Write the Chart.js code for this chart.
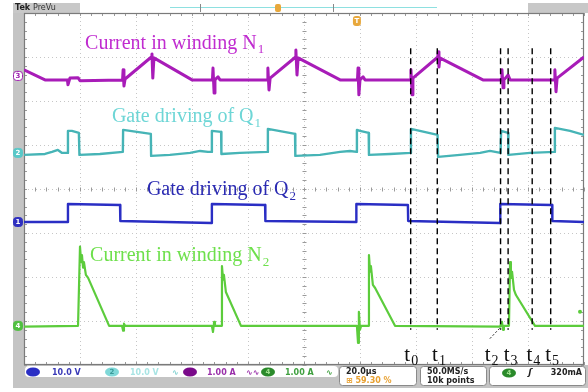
<!DOCTYPE html>
<html><head><meta charset="utf-8">
<script src="https://cdn.jsdelivr.net/npm/chart.js@4.4.1/dist/chart.umd.min.js"></script>
<style>html,body{margin:0;padding:0;background:#fff;overflow:hidden}</style>
</head><body>
<canvas id="c" width="588" height="392"></canvas>
<script>
// ---------- data (time in µs, 20 µs/div) ----------
// CH3: current in winding N1 (A)
const n1Time = [0,7.5,15.5,15.7,16.4,19.3,20,35.2,35.4,35.7,36.1,45.5,45.7,46.0,46.4,60,67.3,67.5,67.9,68.2,69.3,70,86.9,87.1,87.5,87.9,97.0,97.1,97.5,97.9,112.9,119.1,119.3,119.6,120,121.1,121.8,138.0,138.2,138.6,138.9,147.8,147.9,148.2,148.5,163.9,170.5,170.7,171.1,171.4,172.9,173.6,189.4,189.6,190,190.4,200];
const n1Amps = [0.14,-0.09,-0.09,-0.2,-0.05,-0.04,-0.11,-0.09,0.14,-0.23,-0.07,0.43,0.5,-0.05,0.41,-0.09,-0.09,0.18,-0.39,-0.09,-0.02,-0.09,-0.09,0.18,-0.32,-0.05,0.43,0.59,0.02,0.41,-0.09,-0.09,0.18,-0.43,-0.09,-0.02,-0.09,-0.09,0.14,-0.43,-0.05,0.43,0.55,0.2,0.41,-0.09,-0.09,0.14,-0.27,-0.09,0.02,-0.09,-0.09,0.14,-0.36,-0.05,0.43];
// CH2: gate driving of Q1 (V)
const q1Time = [0,7.5,10,12.1,13.6,15.6,15.7,17.1,19.6,19.8,27.1,35.3,35.4,45.3,45.4,52.1,59.3,62.9,65.7,67.0,67.1,70.4,70.5,77.1,87.0,87.1,96.8,96.9,105.7,112.9,116.4,118.8,118.9,120,123.1,123.2,130.7,138.1,138.2,147.7,147.9,155.7,162.9,166.4,170.2,170.4,172.9,173.0,180.7,189.5,189.6,195,200];
const q1Volts = [-0.45,-0.23,0.23,0.68,0,0,5.0,5.0,4.55,-0.45,-0.23,0.23,5.23,4.32,-0.68,-0.45,0,0.45,0.23,0.23,5.0,4.77,-0.23,0,0.23,5.45,4.32,-0.68,-0.45,0.23,0.45,0.23,5.23,5.0,4.55,-0.45,-0.23,0,5.45,4.09,-0.91,-0.45,0,0.45,0,5.0,4.55,-0.45,0,0.23,5.68,5.0,4.09];
// CH1: gate driving of Q2 (V)
const q2Time = [0,15.6,15.7,34.3,34.4,67.0,67.1,86.1,86.2,118.6,118.7,137.1,137.2,170.0,170.1,188.6,188.7,200];
const q2Volts = [0,0,4.09,3.86,0.23,-0.23,4.09,3.86,0.23,0,4.09,3.86,0.23,-0.23,4.09,3.86,0.23,0];
// CH4: current in winding N2 (A)
const n2Time = [0,19.3,20,20.4,20.7,21.1,21.4,22.1,22.9,30.4,35,35.4,35.7,36.1,67.1,67.5,67.9,68.2,70.4,70.7,71.1,71.4,72.1,77.5,118.9,119.3,119.6,120,120.4,122.9,123.2,123.6,123.9,124.6,125.4,132.5,170,170.7,171.1,171.4,173.2,173.6,173.9,174.3,175,175.7,182.5,200];
const n2Amps = [-0.02,0,1.8,1.45,1.61,1.32,1.45,1.16,1.09,0,0,-0.11,0.05,0,0,-0.14,0.09,0,0,1.36,1.05,1.16,0.77,0,0,-0.39,0.32,-0.09,0,0,1.61,1.23,1.36,0.93,0.86,0,-0.02,0.09,-0.09,0,0,1.45,1.09,1.23,0.82,0.70,0,0];
// time instants t0..t5 (µs)
const instantTimes = [138.1,147.6,170.2,172.9,181.5,188.1];
const instantNames = ['0','1','2','3','4','5'];
const traceTitles = [['Current in winding N','1'],['Gate driving of Q','1'],['Gate driving of Q','2'],['Current in winding N','2']];
const triggerTime = 118.9, triggerLevel = 0.32;

// ---------- channel settings (units/div, ground offset in div) ----------
const CH = {
  c1:{scale:10, off:-0.75, color:'#2a2ec4', text:'#2a2ab2', width:2.4},
  c2:{scale:10, off:0.82, color:'#46b4b6', text:'#6ed6d6', width:2.4},
  c3:{scale:1, off:2.57, color:'#a81cb8', text:'#c02cd0', width:3},
  c4:{scale:1, off:-3.11, color:'#5ccc3c', text:'#6ee04c', width:2.2}
};
const pts = (t,v)=>t.map((x,i)=>({x, y:v[i]}));
const axis = k => ({type:'linear', display:false, min:(-4-CH[k].off)*CH[k].scale, max:(4-CH[k].off)*CH[k].scale});
const trace = (d,k)=>({data:d, yAxisID:k, borderColor:CH[k].color, borderWidth:CH[k].width, pointRadius:0, tension:0, fill:false, borderJoinStyle:'round'});

const dashSets = instantTimes.map(t=>({data:[{x:t,y:3.2},{x:t,y:-3.2}], yAxisID:'yd', borderColor:'#000', borderWidth:1.4, borderDash:[6,4], pointRadius:0, fill:false}));

const SERIF='"Liberation Serif","Times New Roman",serif';
const SANS='"DejaVu Sans",sans-serif';

function subText(ctx, main, sub, x, y, size, color, align){
  ctx.fillStyle=color;
  ctx.font=size+'px '+SERIF;
  const w1=ctx.measureText(main).width;
  ctx.font=Math.round(size*0.66)+'px '+SERIF;
  const w2=ctx.measureText(sub).width;
  let x0 = align==='center' ? x-(w1+w2+1)/2 : x;
  ctx.textAlign='left'; ctx.textBaseline='alphabetic';
  ctx.font=size+'px '+SERIF; ctx.fillText(main,x0,y);
  ctx.font=Math.round(size*0.66)+'px '+SERIF; ctx.fillText(sub,x0+w1+1,y+size*0.22);
}
function rrect(ctx,x,y,w,h,r){ctx.beginPath();ctx.moveTo(x+r,y);ctx.arcTo(x+w,y,x+w,y+h,r);ctx.arcTo(x+w,y+h,x,y+h,r);ctx.arcTo(x,y+h,x,y,r);ctx.arcTo(x,y,x+w,y,r);ctx.closePath();}

const scopePlugin = {
  id:'scope',
  beforeDraw(chart){
    const {ctx, chartArea:a, scales} = chart;
    const xs=scales.x, yd=scales.yd;
    ctx.save();
    ctx.fillStyle='#fff'; ctx.fillRect(0,0,chart.width,chart.height);
    ctx.fillStyle='#c4c4c4';
    ctx.fillRect(13,3,a.left-13,385);
    ctx.fillRect(13,a.bottom,chart.width-13,23);
    ctx.fillStyle='#c8c8c8'; ctx.fillRect(13,3,67,a.top-3);
    ctx.fillRect(528,3,60,a.top-3);
    ctx.fillStyle='#fff'; ctx.fillRect(80,3,448,a.top-4);
    ctx.fillStyle='#222'; ctx.font='bold 8px '+SANS; ctx.textBaseline='middle';
    ctx.fillText('Tek',15,8); ctx.font='8px '+SANS; ctx.fillStyle='#333'; ctx.fillText('PreVu',33,8);
    ctx.strokeStyle='#8ee0e0'; ctx.lineWidth=1.2; ctx.beginPath(); ctx.moveTo(170,7.5); ctx.lineTo(437,7.5); ctx.stroke();
    ctx.strokeStyle='#888'; ctx.lineWidth=1; ctx.beginPath(); ctx.moveTo(200.5,4); ctx.lineTo(200.5,12); ctx.moveTo(333.5,4); ctx.lineTo(333.5,12); ctx.stroke();
    ctx.fillStyle='#e8a83c'; rrect(ctx,275,4,6,8,2); ctx.fill();
    ctx.strokeStyle='#c6c6c6'; ctx.lineWidth=1; ctx.setLineDash([1,3]);
    for(let i=1;i<10;i++){ const x=Math.round(xs.getPixelForValue(i*20))+0.5; ctx.beginPath(); ctx.moveTo(x,a.top); ctx.lineTo(x,a.bottom); ctx.stroke(); }
    for(let j=-3;j<=3;j++){ const y=Math.round(yd.getPixelForValue(j))+0.5; ctx.beginPath(); ctx.moveTo(a.left,y); ctx.lineTo(a.right,y); ctx.stroke(); }
    ctx.setLineDash([]);
    ctx.strokeStyle='#9a9a9a';
    const cx=Math.round(xs.getPixelForValue(100))+0.5, cy=Math.round(yd.getPixelForValue(0))+0.5;
    ctx.beginPath();
    for(let k=0;k<=50;k++){ const x=Math.round(xs.getPixelForValue(k*4))+0.5; ctx.moveTo(x,cy-2); ctx.lineTo(x,cy+2); ctx.moveTo(x,a.top); ctx.lineTo(x,a.top+3); ctx.moveTo(x,a.bottom); ctx.lineTo(x,a.bottom-3); }
    for(let k=-20;k<=20;k++){ const y=Math.round(yd.getPixelForValue(k*0.2))+0.5; ctx.moveTo(cx-2,y); ctx.lineTo(cx+2,y); ctx.moveTo(a.left,y); ctx.lineTo(a.left+3,y); ctx.moveTo(a.right,y); ctx.lineTo(a.right-3,y); }
    ctx.stroke();
    ctx.strokeStyle='#7a7a7a'; ctx.lineWidth=1.2;
    ctx.strokeRect(a.left+0.5,a.top+0.5,a.right-a.left-1,a.bottom-a.top-1);
    ctx.restore();
  },
  afterDatasetsDraw(chart){
    const {ctx, chartArea:a, scales} = chart;
    const xs=scales.x, yd=scales.yd;
    ctx.save();
    const titlePos=[[21.8,3.18,'c3'],[31.4,1.52,'c2'],[43.9,-0.14,'c1'],[23.6,-1.64,'c4']];
    traceTitles.forEach((t,i)=>{ const p=titlePos[i]; subText(ctx,t[0],t[1],xs.getPixelForValue(p[0]),yd.getPixelForValue(p[1]),20,CH[p[2]].text,'left'); });
    const labelShift=[0.2,0.6,-3.2,0.9,0.4,0.5];
    instantTimes.forEach((t,i)=>{ subText(ctx,'t',instantNames[i],xs.getPixelForValue(t+labelShift[i]),yd.getPixelForValue(-3.9),21,'#111','center'); });
    ctx.strokeStyle='#222'; ctx.lineWidth=1; ctx.setLineDash([2,2]);
    ctx.beginPath(); ctx.moveTo(xs.getPixelForValue(166.4),yd.getPixelForValue(-3.4)); ctx.lineTo(xs.getPixelForValue(170.4),yd.getPixelForValue(-3.13)); ctx.stroke();
    ctx.setLineDash([]);
    const marks=[['c3','3','#fff','#a020b0'],['c2','2','#58c8c8','#fff'],['c1','1','#3030c0','#fff'],['c4','4','#50c040','#fff']];
    marks.forEach(m=>{ const y=scales[m[0]].getPixelForValue(0);
      ctx.fillStyle=m[2]; ctx.strokeStyle=m[0]==='c3'?'#a020b0':m[2]; ctx.lineWidth=1;
      rrect(ctx,13.5,y-4.5,9,9,3); ctx.fill(); ctx.stroke();
      ctx.fillStyle=m[3]; ctx.font='bold 7px '+SANS; ctx.textAlign='center'; ctx.textBaseline='middle'; ctx.fillText(m[1],18,y+0.5); });
    const ty=scales.c4.getPixelForValue(triggerLevel);
    ctx.fillStyle='#5ccc3c'; ctx.beginPath(); ctx.arc(a.right-4,ty,2,0,Math.PI*2); ctx.fill();
    const tx=xs.getPixelForValue(triggerTime);
    ctx.fillStyle='#e8a83c'; rrect(ctx,tx-4,a.top+3,8,10,3); ctx.fill();
    ctx.fillStyle='#fff'; ctx.font='bold 7px '+SANS; ctx.textAlign='center'; ctx.textBaseline='middle'; ctx.fillText('T',tx,a.top+8.5);
    const sy=a.bottom+7;
    ctx.fillStyle='#fff'; rrect(ctx,a.left+1,a.bottom+1,313,11,4); ctx.fill();
    const chips=[[33,'#2a2ec4','1','#2a2ec4'],[112,'#7fd8d8','2','#3a9a9a'],[190,'#7a0a8a','3','#7a0a8a'],[268,'#2a8a2a','4','#9fe08f']];
    chips.forEach(c=>{ ctx.fillStyle=c[1]; ctx.beginPath(); ctx.ellipse(c[0],sy,7,4.5,0,0,Math.PI*2); ctx.fill(); ctx.fillStyle=c[3]; ctx.font='bold 7px '+SANS; ctx.textAlign='center'; ctx.fillText(c[2],c[0],sy+0.5); });
    ctx.textAlign='left'; ctx.font='bold 8px '+SANS;
    const readouts=[[52,'10.0 V','#3a3ab8'],[130,'10.0 V','#a8e4e4'],[172,'∿','#7fd0d0'],[207,'1.00 A','#9a30aa'],[246,'∿∿','#9a30aa'],[285,'1.00 A','#40a040'],[326,'∿','#40a040']];
    readouts.forEach(r=>{ ctx.fillStyle=r[2]; ctx.fillText(r[1],r[0],sy+0.5); });
    ctx.strokeStyle='#8a8a8a'; ctx.lineWidth=1;
    [[339,77],[420,66],[489,96]].forEach(b=>{ ctx.fillStyle='#fff'; rrect(ctx,b[0]+0.5,a.bottom+1.5,b[1],19,3); ctx.fill(); ctx.stroke(); });
    ctx.font='bold 8px '+SANS; ctx.fillStyle='#222';
    ctx.fillText('20.0µs',346,a.bottom+7); ctx.fillText('50.0MS/s',427,a.bottom+7); ctx.fillText('10k points',427,a.bottom+16);
    ctx.fillStyle='#e8a030'; ctx.fillText('\u229E 59.30 %',346,a.bottom+16);
    ctx.fillStyle='#2a8a2a'; ctx.beginPath(); ctx.ellipse(509,a.bottom+8,7,4.5,0,0,Math.PI*2); ctx.fill();
    ctx.fillStyle='#9fe08f'; ctx.font='bold 7px '+SANS; ctx.textAlign='center'; ctx.fillText('4',509,a.bottom+8.5);
    ctx.fillStyle='#222'; ctx.font='italic bold 9px '+SANS; ctx.fillText('\u0283',530,a.bottom+8);
    ctx.textAlign='right'; ctx.font='bold 8px '+SANS; ctx.fillText('320mA',582,a.bottom+8);
    ctx.restore();
  }
};

new Chart(document.getElementById('c'),{
  type:'line',
  data:{datasets:[...dashSets,
    trace(pts(n1Time,n1Amps),'c3'),
    trace(pts(q1Time,q1Volts),'c2'),
    trace(pts(q2Time,q2Volts),'c1'),
    trace(pts(n2Time,n2Amps),'c4')]},
  options:{
    responsive:false, animation:false, devicePixelRatio:1,
    layout:{padding:{left:24,top:13,right:4,bottom:27}},
    plugins:{legend:{display:false},tooltip:{enabled:false}},
    scales:{
      x:{type:'linear',display:false,min:0,max:200},
      yd:{type:'linear',display:false,min:-4,max:4},
      c1:axis('c1'),c2:axis('c2'),c3:axis('c3'),c4:axis('c4')
    }
  },
  plugins:[scopePlugin]
});
</script>
</body></html>
